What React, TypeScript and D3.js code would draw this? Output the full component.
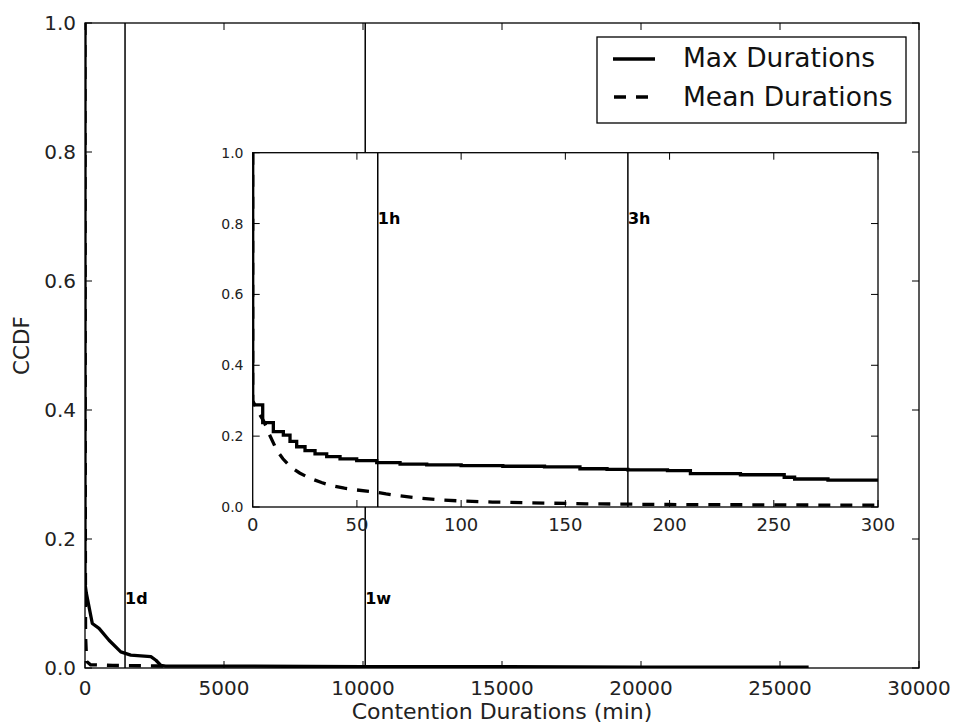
import React from "react";
import * as d3 from "d3";

// ---------- data ----------
const mainXTicks = [0, 5000, 10000, 15000, 20000, 25000, 30000];
const mainYTicks = [0, 0.2, 0.4, 0.6, 0.8, 1.0];
const insetXTicks = [0, 50, 100, 150, 200, 250, 300];
const insetYTicks = [0, 0.2, 0.4, 0.6, 0.8, 1.0];

// main panel: Max Durations CCDF (minutes, fraction)
const mainMaxX = [0, 0, 48, 263, 505, 865, 1287, 1647, 2370, 2550, 2730, 2900, 5000, 10000, 15000, 20000, 26030];
const mainMaxY = [1.0, 0.131, 0.116, 0.069, 0.0615, 0.043, 0.025, 0.02, 0.0175, 0.012, 0.004, 0.003, 0.003, 0.002, 0.002, 0.0015, 0.0015];
// main panel: Mean Durations CCDF
const mainMeanX = [0, 10, 20, 60, 200, 1000, 3000];
const mainMeanY = [1.0, 0.3, 0.05, 0.01, 0.005, 0.004, 0.003];

// inset: Max Durations (step)
const insetMaxX = [0, 0, 4.8, 9.9, 14.7, 17.9, 21.1, 25.1, 29.9, 35.5, 41.9, 49.9, 59.5, 70.7, 83.5, 100, 120, 140, 157, 170, 180, 199, 210, 234, 255, 260, 276, 300];
const insetMaxY = [1.0, 0.288, 0.238, 0.213, 0.203, 0.185, 0.17, 0.159, 0.15, 0.142, 0.136, 0.131, 0.125, 0.121, 0.119, 0.117, 0.115, 0.113, 0.108, 0.106, 0.105, 0.1025, 0.094, 0.091, 0.084, 0.079, 0.076, 0.073];
// inset: Mean Durations
const insetMeanX = [0, 0, 3, 5.5, 8, 11.5, 14.5, 18, 22.5, 27.5, 33, 38.7, 44, 50, 58, 64, 70, 80, 90, 100, 115, 130, 160, 200, 250, 300];
const insetMeanY = [1.0, 0.3, 0.265, 0.24, 0.205, 0.161, 0.136, 0.114, 0.096, 0.081, 0.069, 0.059, 0.053, 0.048, 0.043, 0.037, 0.032, 0.025, 0.02, 0.017, 0.014, 0.012, 0.009, 0.007, 0.006, 0.005];

const mainRefX = [1440, 10080];
const mainRefLabels = ["1d", "1w"];
const insetRefX = [60, 180];
const insetRefLabels = ["1h", "3h"];

const legendLabels = ["Max Durations", "Mean Durations"];

const FONT = "DejaVu Sans, sans-serif";
const DASH = "12 10";
const LW = 3.3;

export default function App() {
  const W = 956, H = 725;
  const m = { left: 85, right: 919, top: 23, bottom: 668 };
  const ins = { left: 252.7, right: 878, top: 152.7, bottom: 507 };

  const x = d3.scaleLinear().domain([0, 30000]).range([m.left, m.right]);
  const y = d3.scaleLinear().domain([0, 1]).range([m.bottom, m.top]);
  const xi = d3.scaleLinear().domain([0, 300]).range([ins.left, ins.right]);
  const yi = d3.scaleLinear().domain([0, 1]).range([ins.bottom, ins.top]);

  const zip = (a: number[], b: number[]) => a.map((v, i) => [v, b[i]] as [number, number]);

  const lineMain = d3.line<[number, number]>().x(d => x(d[0])).y(d => y(d[1]));
  const lineInsetStep = d3.line<[number, number]>().x(d => xi(d[0])).y(d => yi(d[1])).curve(d3.curveStepAfter);
  const lineInset = d3.line<[number, number]>().x(d => xi(d[0])).y(d => yi(d[1]));

  const tickLen = 7;

  return (
    <svg width={W} height={H} style={{ position: "absolute", left: 0, top: 0, background: "#fff" }} fontFamily={FONT}>
      <defs>
        <clipPath id="mainClip">
          <rect x={m.left} y={m.top} width={m.right - m.left} height={m.bottom - m.top} />
        </clipPath>
        <clipPath id="insetClip">
          <rect x={ins.left} y={ins.top} width={ins.right - ins.left} height={ins.bottom - ins.top} />
        </clipPath>
      </defs>
      <rect x={0} y={0} width={W} height={H} fill="#fff" />

      {/* ---------- main axes ---------- */}
      <g clipPath="url(#mainClip)">
        {mainRefX.map((v, i) => (
          <line key={i} x1={x(v)} x2={x(v)} y1={m.top} y2={m.bottom} stroke="#000" strokeWidth={1.5} />
        ))}
        <path d={lineMain(zip(mainMeanX, mainMeanY)) || ""} fill="none" stroke="#000" strokeWidth={LW} strokeDasharray={DASH} />
        <path d={lineMain(zip(mainMaxX, mainMaxY)) || ""} fill="none" stroke="#000" strokeWidth={LW} strokeLinejoin="round" />
      </g>
      {mainRefX.map((v, i) => (
        <text key={i} x={x(v)} y={y(0.1)} fontSize={16} fontWeight="bold">{mainRefLabels[i]}</text>
      ))}
      <rect x={m.left} y={m.top} width={m.right - m.left} height={m.bottom - m.top} fill="none" stroke="#000" strokeWidth={1.3} />
      {mainXTicks.map((t, i) => (
        <g key={i}>
          <line x1={x(t)} x2={x(t)} y1={m.bottom} y2={m.bottom - tickLen} stroke="#000" strokeWidth={1} />
          <line x1={x(t)} x2={x(t)} y1={m.top} y2={m.top + tickLen} stroke="#000" strokeWidth={1} />
          <text x={x(t)} y={695} fontSize={20} textAnchor="middle" fill="#222">{t}</text>
        </g>
      ))}
      {mainYTicks.map((t, i) => (
        <g key={i}>
          <line x1={m.left} x2={m.left + tickLen} y1={y(t)} y2={y(t)} stroke="#000" strokeWidth={1} />
          <line x1={m.right} x2={m.right - tickLen} y1={y(t)} y2={y(t)} stroke="#000" strokeWidth={1} />
          <text x={76} y={y(t)} fontSize={20} textAnchor="end" dominantBaseline="central" fill="#222">{t.toFixed(1)}</text>
        </g>
      ))}
      <text x={502} y={719} fontSize={22} textAnchor="middle" fill="#222">Contention Durations (min)</text>
      <text transform={`translate(28.5, ${(m.top + m.bottom) / 2}) rotate(-90)`} fontSize={21.5} textAnchor="middle" fill="#222">CCDF</text>

      {/* legend */}
      <rect x={597} y={37} width={309} height={86} fill="#fff" stroke="#000" strokeWidth={1.3} />
      <line x1={613} x2={655} y1={59} y2={59} stroke="#000" strokeWidth={LW} />
      <line x1={614} x2={656} y1={97} y2={97} stroke="#000" strokeWidth={LW} strokeDasharray={DASH} />
      <text x={683} y={67} fontSize={26.5} fill="#111">{legendLabels[0]}</text>
      <text x={683} y={105.5} fontSize={26.5} fill="#111">{legendLabels[1]}</text>

      {/* ---------- inset axes ---------- */}
      <rect x={ins.left} y={ins.top} width={ins.right - ins.left} height={ins.bottom - ins.top} fill="#fff" />
      <g clipPath="url(#insetClip)">
        {insetRefX.map((v, i) => (
          <line key={i} x1={xi(v)} x2={xi(v)} y1={ins.top} y2={ins.bottom} stroke="#000" strokeWidth={1.5} />
        ))}
        <path d={lineInset(zip(insetMeanX, insetMeanY)) || ""} fill="none" stroke="#000" strokeWidth={LW} strokeDasharray={DASH} />
        <path d={lineInsetStep(zip(insetMaxX, insetMaxY)) || ""} fill="none" stroke="#000" strokeWidth={LW} />
      </g>
      {insetRefX.map((v, i) => (
        <text key={i} x={xi(v)} y={yi(0.8)} fontSize={16} fontWeight="bold">{insetRefLabels[i]}</text>
      ))}
      <rect x={ins.left} y={ins.top} width={ins.right - ins.left} height={ins.bottom - ins.top} fill="none" stroke="#000" strokeWidth={1.3} />
      {insetXTicks.map((t, i) => (
        <g key={i}>
          <line x1={xi(t)} x2={xi(t)} y1={ins.bottom} y2={ins.bottom - tickLen} stroke="#000" strokeWidth={1} />
          <line x1={xi(t)} x2={xi(t)} y1={ins.top} y2={ins.top + tickLen} stroke="#000" strokeWidth={1} />
          <text x={xi(t)} y={530.5} fontSize={18} textAnchor="middle" fill="#222">{t}</text>
        </g>
      ))}
      {insetYTicks.map((t, i) => (
        <g key={i}>
          <line x1={ins.left} x2={ins.left + tickLen} y1={yi(t)} y2={yi(t)} stroke="#000" strokeWidth={1} />
          <line x1={ins.right} x2={ins.right - tickLen} y1={yi(t)} y2={yi(t)} stroke="#000" strokeWidth={1} />
          <text x={243.5} y={yi(t)} fontSize={14} textAnchor="end" dominantBaseline="central" fill="#222">{t.toFixed(1)}</text>
        </g>
      ))}
    </svg>
  );
}
